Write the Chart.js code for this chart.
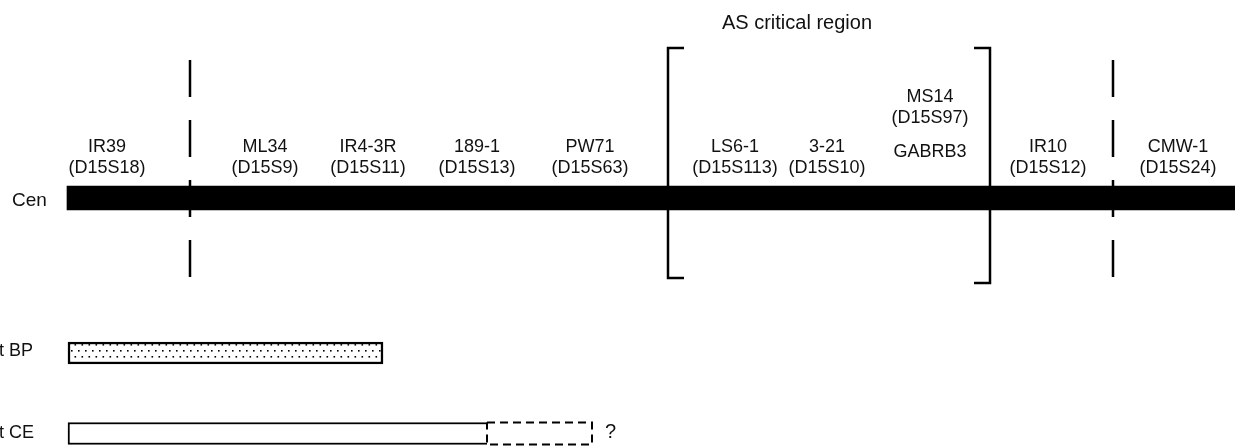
<!DOCTYPE html>
<html>
<head>
<meta charset="utf-8">
<script src="https://cdn.jsdelivr.net/npm/chart.js@4.4.1/dist/chart.umd.min.js"></script>
<style>
  html, body { margin: 0; padding: 0; background: #fff; }
  #map { display: block; }
</style>
</head>
<body>
<canvas id="map" width="1235" height="446"></canvas>
<script>
// markers along the chromosome, in map units
const markerNames = ['IR39', 'ML34', 'IR4-3R', '189-1', 'PW71', 'LS6-1', '3-21', 'MS14', 'IR10', 'CMW-1'];
const markerLoci  = ['(D15S18)', '(D15S9)', '(D15S11)', '(D15S13)', '(D15S63)', '(D15S113)', '(D15S10)', '(D15S97)', '(D15S12)', '(D15S24)'];
const markerPos   = [107, 265, 368, 477, 590, 735, 827, 930, 1048, 1178];
const geneNames   = ['GABRB3'];
const genePos     = [930];

const breakpoints    = [190, 1113];   // dashed lines
const criticalRegion = [668, 990];    // AS critical region brackets
const chromosome     = [67, 1235];
const bpDeletion     = [68, 383];     // t BP
const ceDeletion     = [68, 487];     // t CE, certain part
const ceUncertain    = [487, 592];    // t CE, uncertain part (?)

const trackLabels = ['Cen', 't BP', 't CE'];

// layout (y axis units, top = 0)
const ROW = { title: 23, raised1: 97, raised2: 118, gene: 152, name: 147, locus: 168,
  chrom: 198, bp: 353, ce: 433.5, lineTop: 60, lineBottom: 278, brTop: 48, brBottomL: 278, brBottomR: 283 };
const HOOK = 16, DEL_HALF = 11;
const FONT = "'Liberation Sans', Arial, Helvetica, sans-serif";
const INK = '#000';

function stipple() {
  const c = document.createElement('canvas');
  c.width = 7; c.height = 12;
  const g = c.getContext('2d');
  g.fillStyle = '#fff'; g.fillRect(0, 0, 7, 12);
  g.fillStyle = '#000';
  g.fillRect(1, 2, 1.6, 1.6);
  g.fillRect(4.5, 8, 1.6, 1.6);
  return g.createPattern(c, 'repeat');
}

const line = (pts, extra) => Object.assign({
  type: 'line', data: pts, borderColor: INK, borderWidth: 2.5, pointRadius: 0,
  fill: false, tension: 0, borderCapStyle: 'butt', borderJoinStyle: 'miter'
}, extra || {});

const datasets = [];

breakpoints.forEach(b => datasets.push(line(
  [{ x: b, y: ROW.lineTop }, { x: b, y: ROW.lineBottom }], { borderDash: [37, 23] })));

const [brL, brR] = criticalRegion;
datasets.push(line([{ x: brL + HOOK, y: ROW.brTop }, { x: brL, y: ROW.brTop }, { x: brL, y: ROW.brBottomL }, { x: brL + HOOK, y: ROW.brBottomL }]));
datasets.push(line([{ x: brR - HOOK, y: ROW.brTop }, { x: brR, y: ROW.brTop }, { x: brR, y: ROW.brBottomR }, { x: brR - HOOK, y: ROW.brBottomR }]));

// uncertain end of the CE deletion: dashed box
const [u0, u1] = ceUncertain;
datasets.push(line([
  { x: u0, y: ROW.ce - DEL_HALF }, { x: u1, y: ROW.ce - DEL_HALF }, { x: u1, y: ROW.ce + DEL_HALF },
  { x: u0, y: ROW.ce + DEL_HALF }, { x: u0, y: ROW.ce - DEL_HALF }
], { borderWidth: 2, borderDash: [8, 5] }));

const bar = (track, range, extra) => Object.assign({
  type: 'bar', indexAxis: 'y', grouped: false, data: [{ y: track, x: range }],
  barPercentage: 1, categoryPercentage: 1
}, extra);

datasets.push(bar(ROW.ce, ceDeletion, { backgroundColor: '#fff', borderColor: INK, borderWidth: 2, borderSkipped: 'right', maxBarThickness: DEL_HALF * 2 }));
datasets.push(bar(ROW.bp, bpDeletion, { backgroundColor: stipple(), borderColor: INK, borderWidth: 2.5, borderSkipped: false, maxBarThickness: DEL_HALF * 2 }));
datasets.push(bar(ROW.chrom, chromosome, { backgroundColor: '#000', borderWidth: 0, maxBarThickness: 24 }));

const labelsPlugin = {
  id: 'labels',
  afterDatasetsDraw(chart) {
    const { ctx, scales: { x, y } } = chart;
    ctx.save();
    ctx.fillStyle = '#111';
    ctx.textBaseline = 'middle';
    ctx.textAlign = 'center';

    ctx.font = `20px ${FONT}`;
    ctx.fillText('AS critical region', (x.getPixelForValue(brL) + x.getPixelForValue(brR)) / 2 - 32, y.getPixelForValue(ROW.title));

    ctx.font = `18px ${FONT}`;
    markerNames.forEach((name, i) => {
      const px = x.getPixelForValue(markerPos[i]);
      const raised = name === 'MS14';
      ctx.fillText(name, px, y.getPixelForValue(raised ? ROW.raised1 : ROW.name));
      ctx.fillText(markerLoci[i], px, y.getPixelForValue(raised ? ROW.raised2 : ROW.locus));
    });
    geneNames.forEach((g, i) => ctx.fillText(g, x.getPixelForValue(genePos[i]), y.getPixelForValue(ROW.gene)));

    ctx.textAlign = 'left';
    ctx.font = `19px ${FONT}`;
    ctx.fillText(trackLabels[0], 12, y.getPixelForValue(ROW.chrom) + 3);
    ctx.font = `18px ${FONT}`;
    ctx.fillText(trackLabels[1], -1, y.getPixelForValue(ROW.bp) - 2);
    ctx.fillText(trackLabels[2], -1, y.getPixelForValue(ROW.ce));
    ctx.font = `20px ${FONT}`;
    ctx.fillText('?', x.getPixelForValue(u1) + 13, y.getPixelForValue(ROW.ce) - 1);
    ctx.restore();
  }
};

new Chart(document.getElementById('map'), {
  type: 'bar',
  data: { datasets },
  options: {
    responsive: false,
    animation: false,
    events: [],
    layout: { padding: 0 },
    plugins: { legend: { display: false }, tooltip: { enabled: false } },
    scales: {
      x: { type: 'linear', min: 0, max: 1235, offset: false, display: false },
      y: { type: 'linear', min: 0, max: 446, reverse: true, offset: false, display: false }
    }
  },
  plugins: [labelsPlugin]
});
</script>
</body>
</html>
